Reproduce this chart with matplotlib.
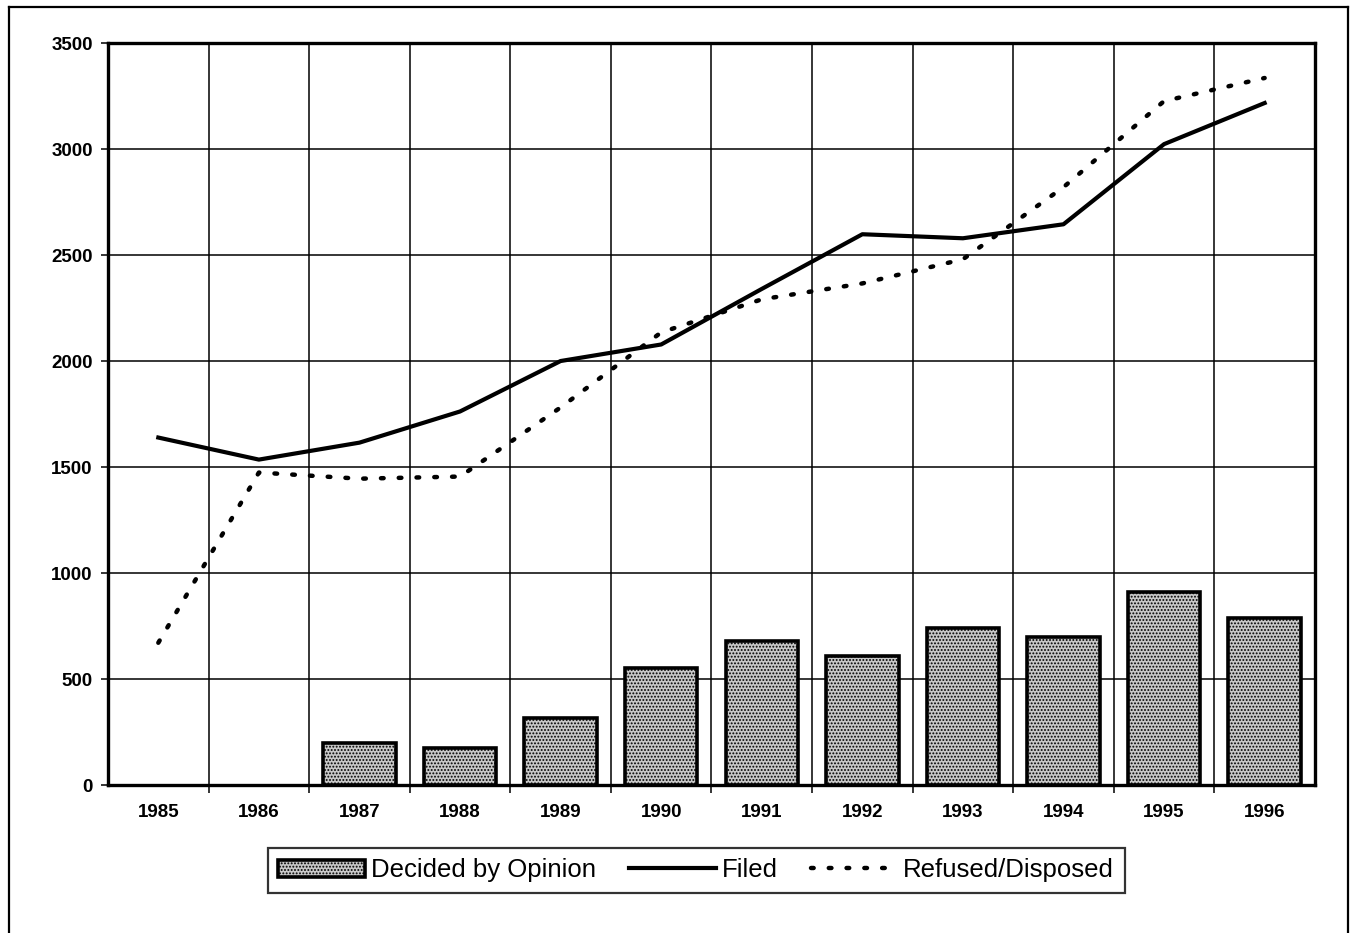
import matplotlib
matplotlib.use("Agg")
import matplotlib.pyplot as plt
from matplotlib.lines import Line2D
from matplotlib.patches import Patch
import numpy as np

plt.rcParams['font.family'] = ['Liberation Sans', 'DejaVu Sans']
plt.rcParams['hatch.color'] = '#3a3a3a'
plt.rcParams['hatch.linewidth'] = 0.9

# ---- data -------------------------------------------------------------
years = ["1985", "1986", "1987", "1988", "1989", "1990",
         "1991", "1992", "1993", "1994", "1995", "1996"]
decided_by_opinion = [0, 0, 198, 175, 316, 553, 680, 609, 742, 699, 912, 789]
filed = [1639, 1535, 1615, 1762, 2000, 2078, 2340, 2598, 2579, 2645, 3023, 3217]
refused_disposed = [671, 1474, 1445, 1455, 1781, 2135, 2291, 2366, 2480, 2820, 3226, 3335]

# ---- figure -----------------------------------------------------------
fig = plt.figure(figsize=(13.57, 9.33), dpi=100)
ax = fig.add_axes([0.0796, 0.1586, 0.8894, 0.7953])

x = np.arange(len(years))

bar_style = dict(facecolor='#c8c8c8', edgecolor='black', hatch='.....')
bars = ax.bar(x, decided_by_opinion, width=0.72, linewidth=2.6, zorder=3,
              **bar_style)
# empty years get no outline
for rect, v in zip(bars, decided_by_opinion):
    if v == 0:
        rect.set_visible(False)

line_filed, = ax.plot(x, filed, color='black', linewidth=3.0,
                      solid_joinstyle='round', zorder=4)
line_refused, = ax.plot(x, refused_disposed, color='black', linewidth=3.2,
                        linestyle=(0, (0.6, 3.4)), dash_capstyle='round',
                        zorder=4)

ax.set_xlim(-0.5, len(years) - 0.5)
ax.set_ylim(0, 3500)
ax.set_yticks(np.arange(0, 3501, 500))
ax.set_xticks(x)
ax.set_xticklabels(years)
ax.set_xticks(np.arange(0.5, len(years) - 1, 1.0), minor=True)

# grid: horizontal at each 500, vertical between the years
ax.grid(axis='y', which='major', color='black', linewidth=1.1, zorder=1)
ax.grid(axis='x', which='minor', color='black', linewidth=1.1, zorder=1)
ax.grid(axis='x', which='major', visible=False)

ax.tick_params(axis='x', which='major', length=0, pad=14, labelsize=13.5)
ax.tick_params(axis='x', which='minor', length=6, width=1.1, direction='out')
ax.tick_params(axis='y', length=5, width=1.1, pad=6, labelsize=13.5)
for lbl in ax.get_xticklabels() + ax.get_yticklabels():
    lbl.set_fontweight('bold')

for spine in ax.spines.values():
    spine.set_linewidth(2.4)

# legend in a box under the plot
bar_handle = Patch(linewidth=2.6, **bar_style)
leg = fig.legend([bar_handle, line_filed, line_refused],
                 ["Decided by Opinion", "Filed", "Refused/Disposed"],
                 loc='center', bbox_to_anchor=(0.513, 0.067),
                 ncol=3, fontsize=18.5, frameon=True, fancybox=False,
                 edgecolor='black', handlelength=3.4, handletextpad=0.2,
                 columnspacing=1.3, borderpad=0.4)
leg.get_frame().set_linewidth(1.6)

# outer frame around the whole chart
frame_kw = dict(color='black', linewidth=1.6, transform=fig.transFigure)
fig.add_artist(Line2D([0.007, 0.007], [0.0, 0.992], **frame_kw))
fig.add_artist(Line2D([0.007, 0.993], [0.992, 0.992], **frame_kw))
fig.add_artist(Line2D([0.993, 0.993], [0.0, 0.992], **frame_kw))

fig.savefig("out.png", dpi=100)
